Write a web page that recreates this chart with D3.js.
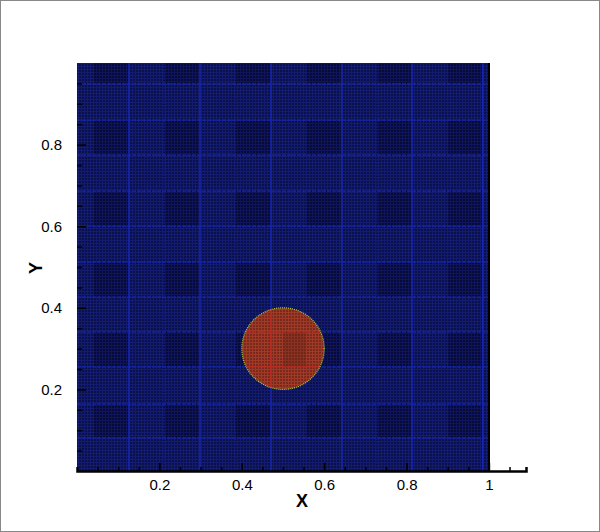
<!DOCTYPE html>
<html>
<head>
<meta charset="utf-8">
<script src="https://cdn.jsdelivr.net/npm/d3@7"></script>
<style>
body { margin: 0; background: #fff; }
svg { display: block; }
text { font-family: "Liberation Sans", Arial, sans-serif; }
</style>
</head>
<body>
<svg width="600" height="532"></svg>
<script>
var svg = d3.select("svg");

// Data
var xTicks = [0.2, 0.4, 0.6, 0.8, 1];
var yTicks = [0.2, 0.4, 0.6, 0.8];
var gridX = [0.126, 0.2985, 0.471, 0.643, 0.813, 0.985];
var faintX = [0.040, 0.212, 0.384, 0.556, 0.728, 0.900];
var gridY = [0.081, 0.164, 0.255, 0.341, 0.426, 0.512, 0.600, 0.686, 0.774, 0.860, 0.949];
var darkX = [[0.040, 0.126], [0.212, 0.299], [0.384, 0.471], [0.556, 0.643], [0.728, 0.813], [0.900, 0.985]];
var darkY = [[0.949, 1.0], [0.774, 0.860], [0.600, 0.686], [0.426, 0.512], [0.255, 0.341], [0.081, 0.164]];
var drop = { cx: 0.5, cy: 0.3, r: 0.1 };

// Scales
var x = d3.scaleLinear().domain([0, 1]).range([77, 489]);
var y = d3.scaleLinear().domain([0, 1]).range([471, 63]);

// page frame
svg.append("rect").attr("x", 0.5).attr("y", 0.5).attr("width", 599).attr("height", 531)
    .attr("fill", "none").attr("stroke", "#888");

// mesh-like dotted fills
var defs = svg.append("defs");
function meshPattern(id, light, dark) {
  var p = defs.append("pattern").attr("id", id)
      .attr("width", 3).attr("height", 3).attr("patternUnits", "userSpaceOnUse");
  p.append("rect").attr("width", 3).attr("height", 3).attr("fill", light);
  p.append("rect").attr("x", 1).attr("y", 1).attr("width", 2).attr("height", 2).attr("fill", dark);
}
meshPattern("meshBlue", "#141c72", "#0a104a");
meshPattern("meshDark", "#0f155c", "#070a34");
meshPattern("meshRed", "#a03a27", "#7a2a1c");

defs.append("clipPath").attr("id", "plotClip")
  .append("rect").attr("x", x(0)).attr("y", y(1))
  .attr("width", x(1) - x(0)).attr("height", y(0) - y(1));
defs.append("clipPath").attr("id", "dropClip")
  .append("ellipse").attr("cx", x(drop.cx)).attr("cy", y(drop.cy))
  .attr("rx", x(drop.r) - x(0)).attr("ry", y(0) - y(drop.r));

var plot = svg.append("g").attr("clip-path", "url(#plotClip)");

plot.append("rect")
    .attr("x", x(0)).attr("y", y(1))
    .attr("width", x(1) - x(0)).attr("height", y(0) - y(1))
    .attr("fill", "url(#meshBlue)");

// darker cells
var cells = [];
darkX.forEach(function (cx) { darkY.forEach(function (cy) { cells.push([cx, cy]); }); });
plot.selectAll(".cell").data(cells).enter().append("rect")
    .attr("class", "cell")
    .attr("x", function (d) { return x(d[0][0]); })
    .attr("y", function (d) { return y(d[1][1]); })
    .attr("width", function (d) { return x(d[0][1]) - x(d[0][0]); })
    .attr("height", function (d) { return y(d[1][0]) - y(d[1][1]); })
    .attr("fill", "url(#meshDark)");

function drawGrid(g, strong, faint) {
  g.selectAll(".fx").data(faintX).enter().append("line")
      .attr("x1", function (d) { return x(d); }).attr("x2", function (d) { return x(d); })
      .attr("y1", y(1)).attr("y2", y(0))
      .attr("stroke", faint).attr("stroke-width", 1).attr("stroke-dasharray", "2,1");
  g.selectAll(".gx").data(gridX).enter().append("line")
      .attr("x1", function (d) { return x(d); }).attr("x2", function (d) { return x(d); })
      .attr("y1", y(1)).attr("y2", y(0))
      .attr("stroke", strong).attr("stroke-width", 1.5);
  g.selectAll(".gy").data(gridY).enter().append("line")
      .attr("x1", x(0)).attr("x2", x(1))
      .attr("y1", function (d) { return y(d); }).attr("y2", function (d) { return y(d); })
      .attr("stroke", strong).attr("stroke-width", 1.2).attr("stroke-dasharray", "4,1");
}
drawGrid(plot.append("g"), "#1626b0", "#121c80");

// the drop
plot.append("ellipse")
    .attr("cx", x(drop.cx)).attr("cy", y(drop.cy))
    .attr("rx", x(drop.r) - x(0)).attr("ry", y(0) - y(drop.r))
    .attr("fill", "url(#meshRed)");
var inDrop = plot.append("g").attr("clip-path", "url(#dropClip)");
inDrop.append("rect")
    .attr("x", x(0.5)).attr("y", y(0.341))
    .attr("width", x(0.556) - x(0.5)).attr("height", y(0.255) - y(0.341))
    .attr("fill", "#5a2016").attr("opacity", 0.3);
drawGrid(inDrop, "#c02822", "#983428");
plot.append("ellipse")
    .attr("cx", x(drop.cx)).attr("cy", y(drop.cy))
    .attr("rx", x(drop.r) - x(0)).attr("ry", y(0) - y(drop.r))
    .attr("fill", "none").attr("stroke", "#b0cc44").attr("stroke-width", 1.2)
    .attr("stroke-dasharray", "1,1");

// axes with inward ticks
var xMinor = d3.range(0.05, 1.1, 0.05);
var yMinor = d3.range(0.05, 1.0, 0.05);
var xAxis = d3.axisBottom(x.copy().domain([0, 1.09]).range([77, 526]))
    .tickValues(xMinor).tickSize(-4).tickFormat("");
svg.append("g").attr("transform", "translate(0," + y(0) + ")").call(xAxis)
    .call(function (g) {
      g.select(".domain").attr("stroke", "#000").attr("stroke-width", 2.5);
      g.selectAll(".tick line").attr("stroke-width", 1.5)
        .attr("y2", function (d) { return Math.abs(d * 5 - Math.round(d * 5)) < 1e-6 ? -8 : -4; });
    });
svg.append("g").attr("transform", "translate(0," + y(0) + ")")
    .call(d3.axisBottom(x).tickValues(xTicks).tickSize(0).tickPadding(8).tickFormat(d3.format("")))
    .call(function (g) {
      g.select(".domain").remove();
      g.selectAll("text").attr("font-size", 15).attr("fill", "#000");
    });

var yAxis = d3.axisLeft(y).tickValues(yMinor).tickSize(0).tickFormat("");
svg.append("g").attr("transform", "translate(" + x(0) + ",0)").call(yAxis)
    .call(function (g) {
      g.select(".domain").remove();
      g.selectAll(".tick line").attr("stroke", "#000").attr("stroke-width", 1.5)
        .attr("x2", function (d) { return Math.abs(d * 5 - Math.round(d * 5)) < 1e-6 ? 9 : 5; });
    });
svg.append("g").attr("transform", "translate(" + (x(0) - 12) + ",0)")
    .call(d3.axisLeft(y).tickValues(yTicks).tickSize(0).tickFormat(d3.format("")))
    .call(function (g) {
      g.select(".domain").remove();
      g.selectAll("text").attr("font-size", 15).attr("fill", "#000");
    });

// right edge
svg.append("line")
    .attr("x1", x(1)).attr("x2", x(1)).attr("y1", y(1)).attr("y2", y(0))
    .attr("stroke", "#000").attr("stroke-width", 2);

// axis titles
svg.append("text").attr("x", 302).attr("y", 507)
    .attr("text-anchor", "middle").attr("font-size", 18).attr("font-weight", "bold")
    .text("X");
svg.append("text").attr("transform", "translate(42,268) rotate(-90)")
    .attr("text-anchor", "middle").attr("font-size", 18).attr("font-weight", "bold")
    .text("Y");
</script>
</body>
</html>
